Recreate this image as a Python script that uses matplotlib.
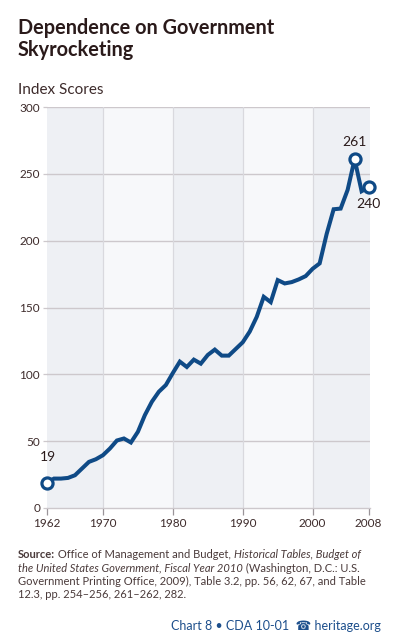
import matplotlib
matplotlib.use('Agg')
import matplotlib.pyplot as plt

# index scores by year
years = list(range(1962, 2009))
scores = [19, 22, 22, 22.5, 24.5, 29.5, 34.5, 36.5, 39.5, 44.5,
          50.5, 52, 49, 57, 69.5, 79.5, 87, 92, 101, 109.5,
          105.5, 111, 108, 114.5, 118.5, 114, 114, 119, 124, 132,
          143, 158, 154, 170.5, 168, 169, 171, 173.5, 179, 183,
          205, 223.5, 224, 238, 261, 237, 240]

labelled = {1962: '19', 2006: '261', 2008: '240'}
xticks = [1962, 1970, 1980, 1990, 2000, 2008]
yticks = [0, 50, 100, 150, 200, 250, 300]

W, H = 394, 643
fig = plt.figure(figsize=(W / 100, H / 100), dpi=100)
fig.patch.set_facecolor('white')
plt.rcParams['font.family'] = ['Lato', 'DejaVu Sans']

txtc = '#3d2b2b'
blue = '#0f4a86'

ax = fig.add_axes([47 / W, 1 - 508 / H, (370 - 47) / W, (508 - 107) / H])
ax.set_xlim(1962, 2008.2)
ax.set_ylim(0, 300)
ax.set_facecolor('#eef0f4')
# lighter decade bands
for a, b in [(1970, 1980), (1990, 2000)]:
    ax.axvspan(a, b, color='#f7f8fa', zorder=0, lw=0)
for y in yticks[1:]:
    ax.axhline(y, color='#cdc8cc', lw=1.0, zorder=1)
for x in xticks[1:-1]:
    ax.axvline(x, color='#d9d9de', lw=0.9, zorder=1)
for s in ['top', 'right', 'left']:
    ax.spines[s].set_visible(False)
ax.spines['bottom'].set_color('#cdc8cc')
ax.spines['bottom'].set_linewidth(1.0)

ax.set_xticks(xticks)
ax.set_yticks(yticks)
ax.tick_params(axis='x', length=5, width=0.9, color='#9a9499', labelsize=8.5,
               labelcolor=txtc, pad=2)
ax.tick_params(axis='y', length=3, width=0.9, color='#cdc8cc', labelsize=8.5,
               labelcolor=txtc, pad=2)

ax.plot(years, scores, color=blue, lw=2.9, solid_joinstyle='miter', zorder=3)
mx = [y for y in years if y in labelled]
my = [scores[years.index(y)] for y in mx]
ax.plot(mx, my, 'o', ms=8, mfc='white', mec=blue, mew=2.3, zorder=4, clip_on=False)

ax.annotate('19', (1962, 19), xytext=(1, 14), textcoords='offset points',
            ha='center', va='bottom', fontsize=10, color='#2a1a1a')
ax.annotate('261', (2006, 261), xytext=(0, 8), textcoords='offset points',
            ha='center', va='bottom', fontsize=10, color='#2a1a1a')
ax.annotate('240', (2008, 240), xytext=(0, -8), textcoords='offset points',
            ha='center', va='top', fontsize=10, color='#2a1a1a')

# titles
fig.text(18 / W, 1 - 18 / H, 'Dependence on Government\nSkyrocketing', ha='left', va='top',
         fontsize=14.3, fontweight='bold', color='#2a1a1a', linespacing=1.15)
fig.text(18 / W, 1 - 83 / H, 'Index Scores', ha='left', va='top', fontsize=11, color=txtc)

# source note with mixed styles
renderer = fig.canvas.get_renderer()
lines = [
    [('Source:', 'normal', 'bold'), (' Office of Management and Budget, ', 'normal', 'normal'),
     ('Historical Tables, Budget of', 'italic', 'normal')],
    [('the United States Government, Fiscal Year 2010', 'italic', 'normal'),
     (' (Washington, D.C.: U.S.', 'normal', 'normal')],
    [('Government Printing Office, 2009), Table 3.2, pp. 56, 62, 67, and Table', 'normal', 'normal')],
    [('12.3, pp. 254\u2013256, 261\u2013262, 282.', 'normal', 'normal')],
]
y0 = 558
for i, segs in enumerate(lines):
    x = 18
    for s, style, weight in segs:
        t = fig.text(x / W, 1 - (y0 + i * 13.5) / H, s, ha='left', va='baseline',
                     fontsize=8.0, style=style, fontweight=weight, color='#4a3a3a')
        bb = t.get_window_extent(renderer)
        x += bb.width

fig.text(381 / W, 1 - 630 / H, 'Chart 8 \u2022 CDA 10-01  \u260e heritage.org', ha='right',
         va='baseline', fontsize=9, color='#1d4f8c')

fig.savefig('out.png', dpi=100, facecolor='white')
